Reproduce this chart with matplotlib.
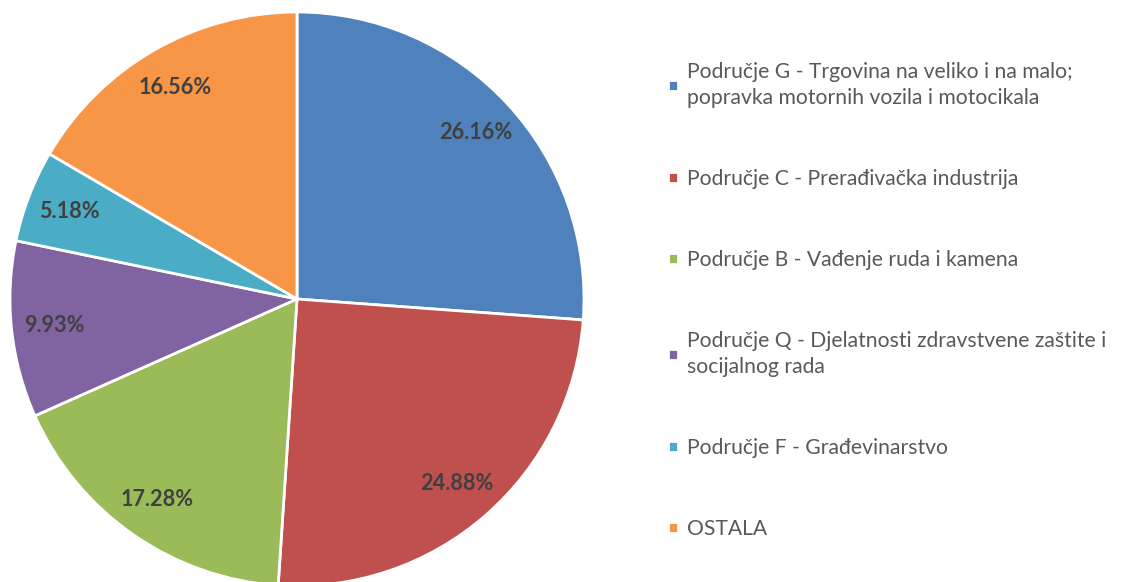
import numpy as np
import matplotlib.pyplot as plt

# Data
labels = [
    "Područje G - Trgovina na veliko i na malo;\npopravka motornih vozila i motocikala",
    "Područje C - Prerađivačka industrija",
    "Područje B - Vađenje ruda i kamena",
    "Područje Q - Djelatnosti zdravstvene zaštite i\nsocijalnog rada",
    "Područje F - Građevinarstvo",
    "OSTALA",
]
shares = [26.16, 24.88, 17.28, 9.93, 5.18, 16.56]
colors = ["#4F81BD", "#C0504D", "#9BBB59", "#8064A2", "#4BACC6", "#F79646"]

plt.rcParams["font.family"] = ["Lato", "DejaVu Sans"]

W, H = 1126, 582
fig = plt.figure(figsize=(W / 100, H / 100), dpi=100)

# pie axes: center ~(297, 299) px, radius ~287 px
r = 287
cx, cy = 297, H - 299
ax = fig.add_axes([(cx - r) / W, (cy - r) / H, 2 * r / W, 2 * r / H])

wedges, texts, autotexts = ax.pie(
    shares,
    colors=colors,
    startangle=90,
    counterclock=False,
    radius=1.0,
    autopct=lambda p: f"{p:.2f}%",
    pctdistance=0.85,
    wedgeprops=dict(edgecolor="white", linewidth=2),
    textprops=dict(color="#404040", fontsize=15.6, fontweight="bold"),
)
ax.set_xlim(-1, 1)
ax.set_ylim(-1, 1)
ax.set_aspect("equal")
ax.axis("off")

leg = fig.legend(
    wedges,
    labels,
    loc="upper left",
    bbox_to_anchor=(668 / W, 1 - 62 / H),
    frameon=False,
    fontsize=15.2,
    labelcolor="#595959",
    handlelength=0.45,
    handleheight=0.45,
    handletextpad=0.45,
    labelspacing=2.9,
    borderpad=0,
    borderaxespad=0,
)
for t in leg.get_texts():
    t.set_linespacing(1.35)

fig.savefig("out.png", dpi=100)
